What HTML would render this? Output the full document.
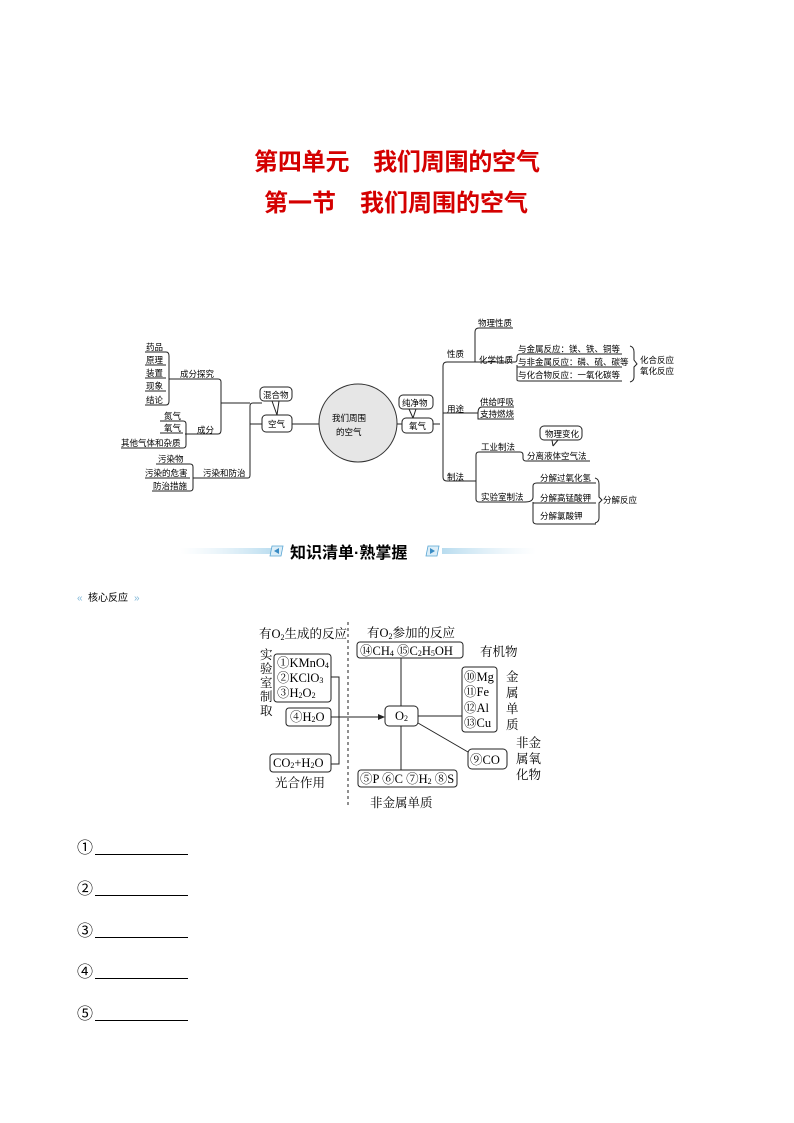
<!DOCTYPE html>
<html><head><meta charset="utf-8"><style>
html,body{margin:0;padding:0;background:#fff}
svg{display:block}
text{font-family:"Liberation Sans","Noto Sans CJK SC",sans-serif;fill:#000}
.s{font-size:8.5px}
.r{font-family:"Liberation Serif","Noto Serif CJK SC",serif;font-size:12.5px}
.ln{stroke:#222;stroke-width:1;fill:none}
.bx{stroke:#222;stroke-width:1;fill:#fff}
</style></head><body>
<svg width="794" height="1123" viewBox="0 0 794 1123" xmlns="http://www.w3.org/2000/svg">
<defs>
<linearGradient id="gl" x1="0" x2="1"><stop offset="0" stop-color="#d6eaf5" stop-opacity="0"/><stop offset="1" stop-color="#b8dcef"/></linearGradient>
<linearGradient id="gr" x1="0" x2="1"><stop offset="0" stop-color="#b8dcef"/><stop offset="1" stop-color="#d6eaf5" stop-opacity="0"/></linearGradient>
</defs>
<text x="254" y="170" font-size="24" font-weight="bold" style="fill:#d40000" textLength="286">第四单元　我们周围的空气</text>
<text x="264" y="211" font-size="24" font-weight="bold" style="fill:#d40000" textLength="264">第一节　我们周围的空气</text>

<g class="s">
<text x="146" y="350">药品</text><text x="146" y="363">原理</text><text x="146" y="376">装置</text><text x="146" y="389">现象</text><text x="146" y="403">结论</text>
<text x="180" y="377">成分探究</text>
<text x="164" y="419">氮气</text><text x="164" y="431">氧气</text><text x="121" y="446">其他气体和杂质</text>
<text x="197" y="433">成分</text>
<text x="158" y="462">污染物</text><text x="145" y="476">污染的危害</text><text x="153" y="489">防治措施</text>
<text x="203" y="476">污染和防治</text>
</g>
<path class="ln" d="M145 352H166M145 365H166M145 378H166M145 391H166M145 405H166M166 352Q169 352 169 356V401Q169 405 166 405M169 379H218Q221 379 221 382V430Q221 434 218 434H185"/>
<path class="ln" d="M160 421H183M160 433H183M121 448H183M183 421Q186 421 186 424V445Q186 448 183 448M186 434H218"/>
<path class="ln" d="M156 464H190M145 478H190M152 491H190M190 464Q193 464 193 467V488Q193 491 190 491M193 478H248Q250 478 250 475V406Q250 403 253 403H262M221 403H250M250 424H262"/>
<rect class="bx" x="262" y="415" width="30" height="17" rx="4"/><text class="s" x="268" y="427">空气</text>
<rect class="bx" x="260" y="387" width="32" height="14" rx="4"/><text class="s" x="263" y="398">混合物</text>
<path class="ln" d="M272 401L277 415M279 401L277 415"/>
<line class="ln" x1="292" y1="424" x2="320" y2="424"/>
<circle cx="358" cy="423" r="39" fill="#e6e6e6" stroke="#333" stroke-width="1"/>
<text class="s" x="332" y="421">我们周围</text><text class="s" x="336" y="435">的空气</text>
<line class="ln" x1="397" y1="424" x2="402" y2="424"/>
<rect class="bx" x="399" y="395" width="34" height="14" rx="4"/><text class="s" x="402" y="406">纯净物</text>
<path class="ln" d="M409 409L413 418M416 409L413 418"/>
<rect class="bx" x="402" y="418" width="31" height="15" rx="4"/><text class="s" x="409" y="429">氧气</text>
<rect class="bx" x="540" y="426" width="42" height="14" rx="4"/>
<path class="ln" d="M433 424H440M443 366Q443 362 447 362H475M443 366V477Q443 481 447 481H476M443 413H478"/>
<g class="s">
<text x="447" y="357">性质</text><text x="447" y="412">用途</text><text x="447" y="480">制法</text>
<text x="478" y="326">物理性质</text><text x="479" y="363">化学性质</text>
<text x="518" y="352">与金属反应：镁、铁、铜等</text><text x="518" y="365">与非金属反应：磷、硫、碳等</text><text x="518" y="378">与化合物反应：一氧化碳等</text>
<text x="640" y="363">化合反应</text><text x="640" y="374">氧化反应</text>
<text x="480" y="405">供给呼吸</text><text x="480" y="417">支持燃烧</text>
<text x="481" y="450">工业制法</text><text x="527" y="459">分离液体空气法</text>
<text x="545" y="437">物理变化</text>
<text x="481" y="500">实验室制法</text>
<text x="540" y="481">分解过氧化氢</text><text x="540" y="501">分解高锰酸钾</text><text x="540" y="519">分解氯酸钾</text>
<text x="603" y="503">分解反应</text>
</g>
<path class="ln" d="M475 362V332Q475 328 479 328H513M475 362H515M515 362Q517 362 517 359V357Q517 354 520 354H622M517 365V380Q517 381 520 381H622M517 367H622"/>
<path class="ln" d="M630 346Q634 347 634 352V360L637 364L634 367V377Q634 381 630 382"/>
<path class="ln" d="M478 413Q478 407 482 407H514M478 413V419H514"/>
<path class="ln" d="M476 455Q476 452 479 452H520Q523 452 523 455V458Q523 461 526 461H590M476 455V499Q476 502 479 502H525"/>
<path class="ln" d="M552 440L553 446M558 440L553 446"/>
<path class="ln" d="M525 502Q533 502 533 497V486Q533 483 537 483H596M533 502V521Q533 524 537 524H596M533 503H596"/>
<path class="ln" d="M595 478Q599 479 599 484V497L602 500L599 503V518Q599 522 595 523"/>

<rect x="180" y="548" width="96" height="6" fill="url(#gl)"/>
<rect x="442" y="548" width="94" height="6" fill="url(#gr)"/>
<path d="M272 546H283L281 556H270Z" fill="#dceef8" stroke="#5aa6d4" stroke-width="0.8"/><path d="M279 548L274 551L279 554Z" fill="#3a8cc4"/>
<path d="M428 546H439L437 556H426Z" fill="#dceef8" stroke="#5aa6d4" stroke-width="0.8"/><path d="M430 548L435 551L430 554Z" fill="#3a8cc4"/>
<text x="290" y="558" font-size="16" font-weight="bold">知识清单·熟掌握</text>
<text x="77" y="601" font-size="10" style="fill:#7fb7d8">«</text>
<text x="88" y="601" font-size="10">核心反应</text>
<text x="134" y="601" font-size="10" style="fill:#7fb7d8">»</text>

<line x1="348" y1="622" x2="348" y2="806" stroke="#222" stroke-dasharray="3,3"/>
<text class="r" x="259" y="638">有O<tspan font-size="8" dy="2">2</tspan><tspan dy="-2">生成的反应</tspan></text>
<text class="r" x="367" y="637">有O<tspan font-size="8" dy="2">2</tspan><tspan dy="-2">参加的反应</tspan></text>
<rect class="bx" x="357" y="642" width="106" height="16" rx="3"/>
<text class="r" x="360" y="655">⑭CH<tspan font-size="8" dy="1">4</tspan><tspan dy="-1"> ⑮C</tspan><tspan font-size="8" dy="1">2</tspan><tspan dy="-1">H</tspan><tspan font-size="8" dy="1">5</tspan><tspan dy="-1">OH</tspan></text>
<text class="r" x="480" y="656">有机物</text>
<text class="r" x="260" y="659">实</text><text class="r" x="260" y="673">验</text><text class="r" x="260" y="687">室</text><text class="r" x="260" y="701">制</text><text class="r" x="260" y="715">取</text>
<rect class="bx" x="274" y="654" width="57" height="48" rx="3"/>
<text class="r" x="277" y="667">①KMnO<tspan font-size="8" dy="1">4</tspan></text>
<text class="r" x="277" y="682">②KClO<tspan font-size="8" dy="1">3</tspan></text>
<text class="r" x="277" y="697">③H<tspan font-size="8" dy="1">2</tspan><tspan dy="-1">O</tspan><tspan font-size="8" dy="1">2</tspan></text>
<path class="ln" d="M331 677H339V764H331"/>
<rect class="bx" x="286" y="708" width="45" height="18" rx="3"/>
<text class="r" x="290" y="721">④H<tspan font-size="8" dy="1">2</tspan><tspan dy="-1">O</tspan></text>
<line class="ln" x1="331" y1="717" x2="381" y2="717"/><path d="M385 717L378 714L378 720Z" fill="#222"/>
<rect class="bx" x="385" y="706" width="33" height="20" rx="4"/>
<text class="r" x="395" y="720">O<tspan font-size="8" dy="1">2</tspan></text>
<path class="ln" d="M401 658V706M401 726V770M418 716H462M418 723L468 752"/>
<rect class="bx" x="462" y="667" width="35" height="65" rx="3"/>
<text class="r" x="464" y="681">⑩Mg</text><text class="r" x="464" y="696">⑪Fe</text><text class="r" x="464" y="712">⑫Al</text><text class="r" x="464" y="727">⑬Cu</text>
<text class="r" x="506" y="681">金</text><text class="r" x="506" y="697">属</text><text class="r" x="506" y="713">单</text><text class="r" x="506" y="729">质</text>
<rect class="bx" x="468" y="749" width="39" height="20" rx="4"/>
<text class="r" x="470" y="764">⑨CO</text>
<text class="r" x="516" y="747">非金</text><text class="r" x="516" y="763">属氧</text><text class="r" x="516" y="779">化物</text>
<rect class="bx" x="358" y="770" width="99" height="17" rx="3"/>
<text class="r" x="360" y="783">⑤P ⑥C ⑦H<tspan font-size="8" dy="1">2</tspan><tspan dy="-1"> ⑧S</tspan></text>
<text class="r" x="370" y="807">非金属单质</text>
<rect class="bx" x="270" y="754" width="61" height="18" rx="3"/>
<text class="r" x="273" y="767">CO<tspan font-size="8" dy="1">2</tspan><tspan dy="-1">+H</tspan><tspan font-size="8" dy="1">2</tspan><tspan dy="-1">O</tspan></text>
<text class="r" x="275" y="787">光合作用</text>

<g font-size="16">
<text x="77" y="853">①</text><text x="77" y="894">②</text><text x="77" y="936">③</text><text x="77" y="977">④</text><text x="77" y="1019">⑤</text>
</g>
<g stroke="#000" stroke-width="1">
<path d="M95 854.5H188M95 895.5H188M95 937.5H188M95 978.5H188M95 1020.5H188"/>
</g>
</svg>
</body></html>
